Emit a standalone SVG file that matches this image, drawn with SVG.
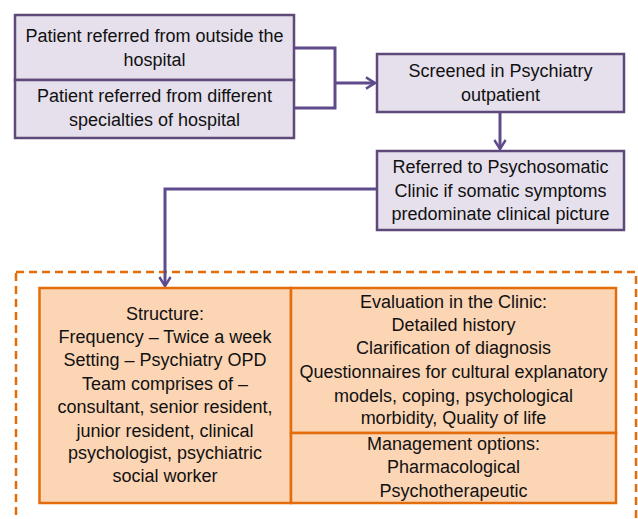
<svg xmlns="http://www.w3.org/2000/svg" width="638" height="519" viewBox="0 0 638 519">
<defs>
<style>
.pbox{fill:#e5e0ec;stroke:#5f497a;stroke-width:2.5}
.obox{fill:#fcd5b5;stroke:#e46c0a;stroke-width:2.5}
.conn{fill:none;stroke:#5f4b8b;stroke-width:3}
.t{font-family:"Liberation Sans",Arial,sans-serif;font-size:18px;fill:#111111;text-anchor:middle}
</style>
<marker id="arr" viewBox="0 0 12 12" refX="10" refY="6" markerWidth="4.5" markerHeight="4.5" orient="auto" markerUnits="strokeWidth">
<path d="M2,1 L10,6 L2,11" fill="none" stroke="#5f4b8b" stroke-width="2.2" stroke-linejoin="miter"/>
</marker>
</defs>
<rect width="638" height="519" fill="#ffffff"/>
<rect x="16" y="272" width="620" height="262" fill="none" stroke="#e46c0a" stroke-width="2.5" stroke-dasharray="8,5"/>
<g id="connectors">
<path class="conn" d="M294,48 H335 V108 H294"/>
<path class="conn" d="M335,83 H375" marker-end="url(#arr)"/>
<path class="conn" d="M500,112 V149" marker-end="url(#arr)"/>
<path class="conn" d="M377,189 H165 V286" marker-end="url(#arr)"/>
</g>
<g id="n1">
<rect class="pbox" x="15" y="15" width="279" height="65"/>
<text class="t" x="154.5" y="42">Patient referred from outside the</text>
<text class="t" x="154.5" y="66">hospital</text>
</g>
<g id="n2">
<rect class="pbox" x="15" y="80" width="279" height="58"/>
<text class="t" x="154.5" y="102">Patient referred from different</text>
<text class="t" x="154.5" y="126">specialties of hospital</text>
</g>
<g id="n3">
<rect class="pbox" x="377" y="54" width="247" height="58"/>
<text class="t" x="500.5" y="77">Screened in Psychiatry</text>
<text class="t" x="500.5" y="101">outpatient</text>
</g>
<g id="n4">
<rect class="pbox" x="377" y="151" width="247" height="79"/>
<text class="t" x="500.5" y="173">Referred to Psychosomatic</text>
<text class="t" x="500.5" y="197">Clinic if somatic symptoms</text>
<text class="t" x="500.5" y="220">predominate clinical picture</text>
</g>
<g id="n5">
<rect class="obox" x="39.5" y="288" width="251.5" height="215"/>
<text class="t" x="165" y="320">Structure:</text>
<text class="t" x="165" y="343">Frequency – Twice a week</text>
<text class="t" x="165" y="366">Setting – Psychiatry OPD</text>
<text class="t" x="165" y="390">Team comprises of  –</text>
<text class="t" x="165" y="413">consultant, senior resident,</text>
<text class="t" x="165" y="437">junior resident, clinical</text>
<text class="t" x="165" y="459">psychologist, psychiatric</text>
<text class="t" x="165" y="482">social worker</text>
</g>
<g id="n6">
<rect class="obox" x="291" y="288" width="325" height="145"/>
<text class="t" x="453.5" y="308">Evaluation in the Clinic:</text>
<text class="t" x="453.5" y="331">Detailed history</text>
<text class="t" x="453.5" y="354">Clarification of diagnosis</text>
<text class="t" x="453.5" y="378">Questionnaires for cultural explanatory</text>
<text class="t" x="453.5" y="402">models, coping, psychological</text>
<text class="t" x="453.5" y="424">morbidity, Quality of life</text>
</g>
<g id="n7">
<rect class="obox" x="291" y="433" width="325" height="70"/>
<text class="t" x="453.5" y="450">Management options:</text>
<text class="t" x="453.5" y="473">Pharmacological</text>
<text class="t" x="453.5" y="497">Psychotherapeutic</text>
</g>
</svg>
